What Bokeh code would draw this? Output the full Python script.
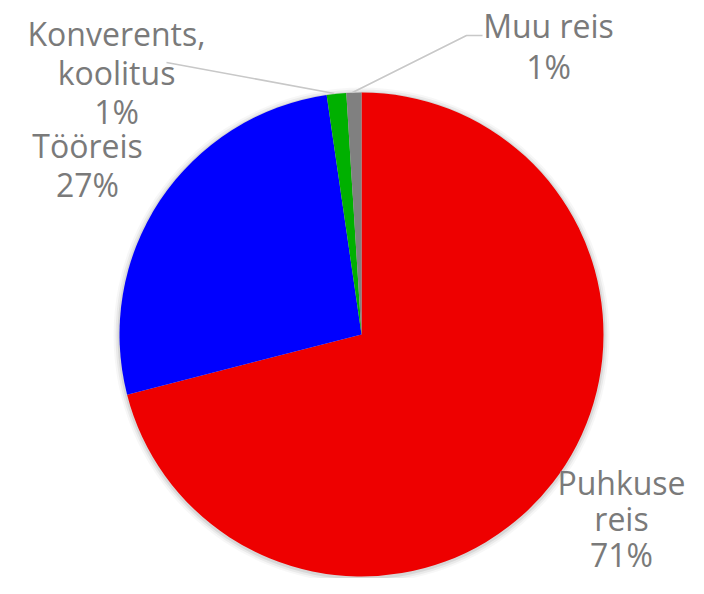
import math
from bokeh.plotting import figure
from bokeh.models import Range1d, ColumnDataSource
from bokeh.core.properties import value
from bokeh.embed import file_html
from bokeh.resources import INLINE

# ---- data ----
categories = ["Puhkuse reis", "Tööreis", "Konverents, koolitus", "Muu reis"]
shares = [71.0, 26.7, 1.3, 1.0]
colors = ["#EE0000", "#0000FF", "#00B000", "#808080"]
label_lines = [["Puhkuse", "reis"], ["Tööreis"], ["Konverents,", "koolitus"], ["Muu reis"]]

# ---- layout (image pixel coords, y downward) ----
W, H = 688, 578
cx_img, cy_img, R = 361, 334, 242
label_pos = [(621, 482), (87, 145), (116, 33), (548, 25)]  # first line centre
line_gaps = [36, 39, 39, 41]
leaders = {2: [(166, 62), (334, 93)], 3: [(482, 35), (466, 35), (352, 92)]}

def X(x):
    return x
def Y(y):
    return 594 - y

p = figure(width=W, height=H, output_backend="svg", toolbar_location=None,
           x_range=Range1d(0, W), y_range=Range1d(594 - H, 594),
           min_border=0)
p.axis.visible = False
p.grid.visible = False
p.outline_line_color = None
p.background_fill_color = "white"
p.border_fill_color = "white"

# soft shadow
for dr, a in [(6, 0.03), (4, 0.05), (2, 0.08)]:
    p.circle(x=[X(cx_img)], y=[Y(cy_img + 1)], radius=R + dr, fill_color="#000000",
             fill_alpha=a, line_color=None)

total = sum(shares)
cum = 0.0
starts, ends = [], []
for s in shares:
    a0 = math.pi / 2 - 2 * math.pi * cum / total
    cum += s
    a1 = math.pi / 2 - 2 * math.pi * cum / total
    starts.append(a1)
    ends.append(a0)

src = ColumnDataSource(dict(x=[X(cx_img)] * len(shares), y=[Y(cy_img)] * len(shares),
                            start=starts, end=ends, color=colors, cat=categories))
p.wedge(x="x", y="y", radius=R, start_angle="start", end_angle="end",
        fill_color="color", line_color=None, source=src)

# leader lines
for i, pts in leaders.items():
    p.line([X(a) for a, b in pts], [Y(b) for a, b in pts], line_color="#C8C8C8", line_width=1.6)

# labels
tx, ty, tt = [], [], []
for i, lines in enumerate(label_lines):
    x0, y0 = label_pos[i]
    allt = lines + [f"{round(shares[i])}%"]
    for k, t in enumerate(allt):
        tx.append(X(x0))
        ty.append(Y(y0 + k * line_gaps[i]))
        tt.append(t)
p.text(x=tx, y=ty, text=tt, text_align="center", text_baseline="middle",
       text_font=value("Open Sans"), text_font_size="32px", text_color="#7A7A7A")

open("out.html", "w").write(file_html(p, INLINE))
